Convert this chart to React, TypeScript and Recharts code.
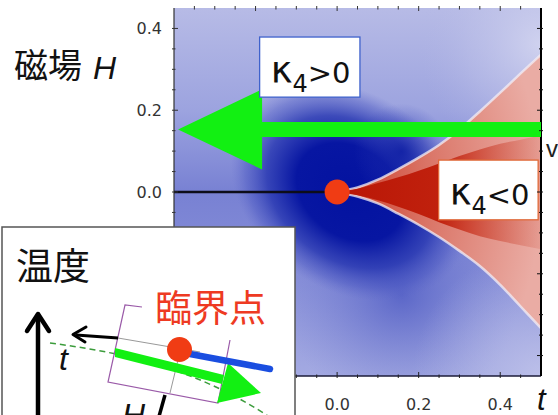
import React from 'react';
import { ComposedChart, XAxis, YAxis, Area, ReferenceArea, ReferenceLine, ReferenceDot } from 'recharts';

// ---- data ----
const tGrid = [0, 0.05, 0.1, 0.15, 0.2, 0.25, 0.3, 0.35, 0.4, 0.45, 0.5];
// boundary of the kappa4 < 0 (red) region
const negUpper = [0, 0.011, 0.03, 0.056, 0.084, 0.115, 0.153, 0.197, 0.243, 0.29, 0.336];
const negLower = [0, -0.011, -0.028, -0.053, -0.08, -0.11, -0.144, -0.181, -0.227, -0.28, -0.333];
// darker core wedge of the red region
const coreUpper = [0, 0.008, 0.022, 0.036, 0.052, 0.07, 0.088, 0.104, 0.118, 0.128, 0.138];
const coreLower = [0, -0.008, -0.02, -0.036, -0.054, -0.074, -0.092, -0.108, -0.12, -0.13, -0.14];

const xTickValues = [-0.35, -0.3, -0.25, -0.2, -0.15, -0.1, -0.05, 0, 0.05, 0.1, 0.15, 0.2, 0.25, 0.3, 0.35, 0.4, 0.45];
const yTickValues = [-0.4, -0.35, -0.3, -0.25, -0.2, -0.15, -0.1, -0.05, 0, 0.05, 0.1, 0.15, 0.2, 0.25, 0.3, 0.35, 0.4];
const xMajorTicks = [-0.2, 0, 0.2, 0.4];
const yMajorTicks = [-0.4, -0.2, 0, 0.2, 0.4];

const T_DOMAIN: [number, number] = [-0.4, 0.5];
const H_DOMAIN: [number, number] = [-0.45, 0.45];

// big green arrow (data units)
const arrowSpec = { tipT: -0.39, headBaseT: -0.184, endT: 0.5, midH: 0.153, shaftHalfH: 0.0185, headHalfH: 0.098 };
// label boxes (data units)
const posBox = { t1: -0.19, t2: 0.056, h1: 0.232, h2: 0.379, sign: '>' };
const negBox = { t1: 0.249, t2: 0.493, h1: -0.068, h2: 0.078, sign: '<' };

const chartData = tGrid.map((t, i) => ({
  t,
  outer: [negLower[i], negUpper[i]],
  core: [coreLower[i], coreUpper[i]],
}));

const tickFont = "'DejaVu Sans', sans-serif";
const fmt = (v: number) => (Math.abs(v) < 1e-9 ? '0.0' : v.toFixed(1));

const LeftTick = (p: any) => {
  const v = p.payload.value;
  const major = yMajorTicks.includes(v);
  return (
    <g>
      <line x1={p.x} x2={p.x + (major ? 6 : 3.5)} y1={p.y} y2={p.y} stroke="#333" strokeWidth={1} />
      {major && (
        <text x={p.x - 10} y={p.y} dy="0.37em" textAnchor="end" fontFamily={tickFont} fontSize={16} fill="#333">
          {fmt(v)}
        </text>
      )}
    </g>
  );
};
const BottomTick = (p: any) => {
  const v = p.payload.value;
  const major = xMajorTicks.includes(v);
  return (
    <g>
      <line x1={p.x} x2={p.x} y1={p.y} y2={p.y - (major ? 6 : 3.5)} stroke="#222" strokeWidth={1} />
      {major && (
        <text x={p.x} y={p.y + 32} textAnchor="middle" fontFamily={tickFont} fontSize={16} fill="#333">
          {fmt(v)}
        </text>
      )}
    </g>
  );
};
const TopTick = (p: any) => {
  const v = p.payload.value;
  const major = xMajorTicks.includes(v);
  return <line x1={p.x} x2={p.x} y1={p.y} y2={p.y + (major ? 5 : 3.5)} stroke="#333" strokeWidth={1} />;
};
const RightTick = (p: any) => {
  const v = p.payload.value;
  const major = yMajorTicks.includes(v);
  return <line x1={p.x} x2={p.x - (major ? 6 : 4)} y1={p.y} y2={p.y} stroke="#111" strokeWidth={1} />;
};

const ArrowShape = (p: any) => {
  const { x, y, width, height } = p;
  const a = arrowSpec;
  const fb = (a.headBaseT - a.tipT) / (a.endT - a.tipT);
  const span = 2 * a.headHalfH;
  const sTop = y + ((a.headHalfH - a.shaftHalfH) / span) * height;
  const sBot = y + ((a.headHalfH + a.shaftHalfH) / span) * height;
  const xb = x + fb * width;
  const pts = [
    [x, y + height / 2],
    [xb, y],
    [xb, sTop],
    [x + width, sTop],
    [x + width, sBot],
    [xb, sBot],
    [xb, y + height],
  ].map((q) => q.join(',')).join(' ');
  return <polygon points={pts} fill="#12f012" />;
};

const makeBox = (sign: string, border: string) => (p: any) => {
  const { x, y, width, height } = p;
  return (
    <g>
      <rect x={x} y={y} width={width} height={height} fill="#fff" stroke={border} strokeWidth={1.3} />
      <text x={x + 11} y={y + height * 0.76} fontFamily="'DejaVu Sans', sans-serif" fill="#111">
        <tspan fontSize={37}>κ</tspan>
        <tspan fontSize={24} dy={9}>4</tspan>
        <tspan fontSize={29} dy={-9}>{sign}0</tspan>
      </text>
    </g>
  );
};
const PosBoxShape = makeBox(posBox.sign, '#3f62cc');
const NegBoxShape = makeBox(negBox.sign, '#e06a3a');

const ax = { xAxisId: 'b', yAxisId: 'l' };

export default function App() {
  const cjk = "'Noto Sans CJK JP', sans-serif";
  const lat = "'Liberation Sans', Arial, sans-serif";
  return (
    <div style={{ position: 'absolute', left: 0, top: 0, width: 558, height: 415, overflow: 'hidden', background: '#fff' }}>
      <ComposedChart width={558} height={415} data={chartData} margin={{ top: 0, right: 0, bottom: 0, left: 0 }}>
        <defs>
          <linearGradient id="bgBlue" x1="0" y1="0" x2="0" y2="1">
            <stop offset="0" stopColor="#b7bbe6" />
            <stop offset="0.28" stopColor="#9ca3df" />
            <stop offset="0.5" stopColor="#7881d3" />
            <stop offset="0.72" stopColor="#868ed8" />
            <stop offset="1" stopColor="#a4aae2" />
          </linearGradient>
          <radialGradient id="coreBlue" cx="0.48" cy="0.5" r="0.28"
            gradientTransform="translate(0.48 0.5) rotate(35) scale(1.25 0.95) translate(-0.48 -0.5)">
            <stop offset="0" stopColor="#0312a0" stopOpacity="1" />
            <stop offset="0.45" stopColor="#0716a2" stopOpacity="1" />
            <stop offset="0.7" stopColor="#1e2eae" stopOpacity="0.75" />
            <stop offset="0.88" stopColor="#3a48bc" stopOpacity="0.35" />
            <stop offset="1" stopColor="#5a64c8" stopOpacity="0" />
          </radialGradient>
          <radialGradient id="upperDark" cx="0.62" cy="0.39" r="0.13">
            <stop offset="0" stopColor="#0a1aa2" stopOpacity="0.75" />
            <stop offset="1" stopColor="#2a38b4" stopOpacity="0" />
          </radialGradient>
          <radialGradient id="lowBlue" cx="0.62" cy="0.78" r="0.32">
            <stop offset="0" stopColor="#3a48bc" stopOpacity="0.6" />
            <stop offset="1" stopColor="#6a74cc" stopOpacity="0" />
          </radialGradient>
          <radialGradient id="lightTR" cx="1" cy="0.1" r="0.33">
            <stop offset="0" stopColor="#d6d8f1" stopOpacity="0.85" />
            <stop offset="0.6" stopColor="#c2c5ea" stopOpacity="0.4" />
            <stop offset="1" stopColor="#b0b4e4" stopOpacity="0" />
          </radialGradient>
          <radialGradient id="lightBR" cx="1" cy="1" r="0.35">
            <stop offset="0" stopColor="#c2c5eb" stopOpacity="0.8" />
            <stop offset="1" stopColor="#b0b4e4" stopOpacity="0" />
          </radialGradient>
          <radialGradient id="redOuter" cx="0" cy="0.5" r="1">
            <stop offset="0" stopColor="#cc3a26" />
            <stop offset="0.45" stopColor="#da7466" />
            <stop offset="1" stopColor="#eaaca4" />
          </radialGradient>
          <linearGradient id="redCore" x1="0" y1="0" x2="1" y2="0">
            <stop offset="0" stopColor="#b81404" />
            <stop offset="0.5" stopColor="#bf1c08" />
            <stop offset="0.65" stopColor="#c8321e" stopOpacity="0.8" />
            <stop offset="1" stopColor="#d05a48" stopOpacity="0.2" />
          </linearGradient>
        </defs>

        <XAxis xAxisId="b" type="number" dataKey="t" domain={T_DOMAIN} ticks={xTickValues} allowDataOverflow
          orientation="bottom" height={39} tickSize={0} tickLine={false} interval={0}
          tick={(p: any) => <BottomTick {...p} />} axisLine={{ stroke: '#1c1c3a', strokeWidth: 1.5 }} />
        <XAxis xAxisId="top" type="number" dataKey="t" domain={T_DOMAIN} ticks={xTickValues} allowDataOverflow
          orientation="top" height={8} tickSize={0} tickLine={false} interval={0}
          tick={(p: any) => <TopTick {...p} />} axisLine={false} />
        <YAxis yAxisId="l" type="number" domain={H_DOMAIN} ticks={yTickValues} allowDataOverflow
          orientation="left" width={174} tickSize={0} tickLine={false} interval={0}
          tick={(p: any) => <LeftTick {...p} />} axisLine={{ stroke: '#333', strokeWidth: 1.2 }} />
        <YAxis yAxisId="r" type="number" domain={H_DOMAIN} ticks={yTickValues} allowDataOverflow
          orientation="right" width={17} tickSize={0} tickLine={false} interval={0}
          tick={(p: any) => <RightTick {...p} />} axisLine={{ stroke: '#000', strokeWidth: 2 }} />

        <ReferenceArea {...ax} x1={T_DOMAIN[0]} x2={T_DOMAIN[1]} y1={H_DOMAIN[0]} y2={H_DOMAIN[1]}
          fill="url(#bgBlue)" fillOpacity={1} stroke="none" zIndex={-90} />
        <ReferenceArea {...ax} x1={T_DOMAIN[0]} x2={T_DOMAIN[1]} y1={H_DOMAIN[0]} y2={H_DOMAIN[1]}
          fill="url(#lowBlue)" fillOpacity={1} stroke="none" zIndex={-85} />
        <ReferenceArea {...ax} x1={T_DOMAIN[0]} x2={T_DOMAIN[1]} y1={H_DOMAIN[0]} y2={H_DOMAIN[1]}
          fill="url(#coreBlue)" fillOpacity={1} stroke="none" zIndex={-80} />
        <ReferenceArea {...ax} x1={T_DOMAIN[0]} x2={T_DOMAIN[1]} y1={H_DOMAIN[0]} y2={H_DOMAIN[1]}
          fill="url(#upperDark)" fillOpacity={1} stroke="none" zIndex={-75} />
        <ReferenceArea {...ax} x1={T_DOMAIN[0]} x2={T_DOMAIN[1]} y1={H_DOMAIN[0]} y2={H_DOMAIN[1]}
          fill="url(#lightTR)" fillOpacity={1} stroke="none" zIndex={-70} />
        <ReferenceArea {...ax} x1={T_DOMAIN[0]} x2={T_DOMAIN[1]} y1={H_DOMAIN[0]} y2={H_DOMAIN[1]}
          fill="url(#lightBR)" fillOpacity={1} stroke="none" zIndex={-60} />

        <Area {...ax} dataKey="outer" type="monotone" fill="url(#redOuter)" fillOpacity={1}
          stroke="#f3eef6" strokeWidth={2.5} strokeOpacity={0.75} dot={false} activeDot={false} isAnimationActive={false} />
        <Area {...ax} dataKey="core" type="monotone" fill="url(#redCore)" fillOpacity={0.95}
          stroke="none" dot={false} activeDot={false} isAnimationActive={false} zIndex={110} />

        <ReferenceLine {...ax} segment={[{ x: T_DOMAIN[0], y: 0 }, { x: -0.02, y: 0 }]} stroke="#0d0d1a" strokeWidth={2.5} zIndex={600} />
        <ReferenceArea {...ax} x1={arrowSpec.tipT} x2={arrowSpec.endT}
          y1={arrowSpec.midH - arrowSpec.headHalfH} y2={arrowSpec.midH + arrowSpec.headHalfH}
          shape={(p: any) => <ArrowShape {...p} />} zIndex={650} />
        <ReferenceArea {...ax} x1={posBox.t1} x2={posBox.t2} y1={posBox.h1} y2={posBox.h2}
          shape={(p: any) => <PosBoxShape {...p} />} zIndex={660} />
        <ReferenceArea {...ax} x1={negBox.t1} x2={negBox.t2} y1={negBox.h1} y2={negBox.h2}
          shape={(p: any) => <NegBoxShape {...p} />} zIndex={660} />
        <ReferenceDot {...ax} x={0} y={0} r={12.5} fill="#f03c14" stroke="none" zIndex={700} />
      </ComposedChart>

      <svg width={558} height={415} style={{ position: 'absolute', left: 0, top: 0, pointerEvents: 'none' }}>
        <text x={14} y={78} fontFamily={cjk} fontSize={34} fill="#111">磁場</text>
        <text x={93} y={79} fontFamily={lat} fontStyle="italic" fontSize={32} fill="#111">H</text>
        <text x={537} y={410} fontFamily={lat} fontStyle="italic" fontSize={31} fill="#111">t</text>
        <text x={546} y={157} fontFamily={lat} fontSize={24} fill="#222">v</text>

        <g>
          <rect x={2} y={227} width={293} height={200} fill="#fff" stroke="#555" strokeWidth={1.5} />
          <text x={16} y={280} fontFamily={cjk} fontSize={37} fill="#111">温度</text>
          <line x1={38} y1={420} x2={38} y2={316} stroke="#000" strokeWidth={4.5} />
          <polyline points="27,331 38,314 49,331" fill="none" stroke="#000" strokeWidth={4.5} strokeLinecap="round" strokeLinejoin="round" />
          <path d="M50,343 C120,352 195,368 268,416" stroke="#3c9c3c" strokeWidth={1.5} strokeDasharray="6 4" fill="none" />
          <line x1={118} y1={338} x2={200} y2={352} stroke="#999" strokeWidth={1} />
          <line x1={178} y1={360} x2={170} y2={393} stroke="#999" strokeWidth={1} />
          <path d="M142,307 L125,305 L108,382 L218,403 L230,340" stroke="#9a5aa8" strokeWidth={1.2} fill="none" />
          <line x1={118} y1={338} x2={76} y2={335} stroke="#000" strokeWidth={3} />
          <polyline points="86,327 73,334.5 85,342" stroke="#000" strokeWidth={3} fill="none" strokeLinejoin="round" strokeLinecap="round" />
          <text x={59} y={370} fontFamily={lat} fontStyle="italic" fontSize={32} fill="#111">t</text>
          <line x1={165} y1={395} x2={158} y2={420} stroke="#000" strokeWidth={3.5} />
          <text x={122} y={426} fontFamily={lat} fontStyle="italic" fontSize={32} fill="#111">H</text>
          <polygon points="115,348 115,357 222,384 224,375" fill="#12f012" />
          <polygon points="228,363 261,393 217,403" fill="#12f012" />
          <line x1={190} y1={354} x2={270} y2={369} stroke="#1a4ee0" strokeWidth={6.5} strokeLinecap="round" />
          <circle cx={179.5} cy={349.5} r={12.5} fill="#f03c14" />
          <text x={155} y={322} fontFamily={cjk} fontSize={37} fill="#ee3a22">臨界点</text>
        </g>
      </svg>
    </div>
  );
}
